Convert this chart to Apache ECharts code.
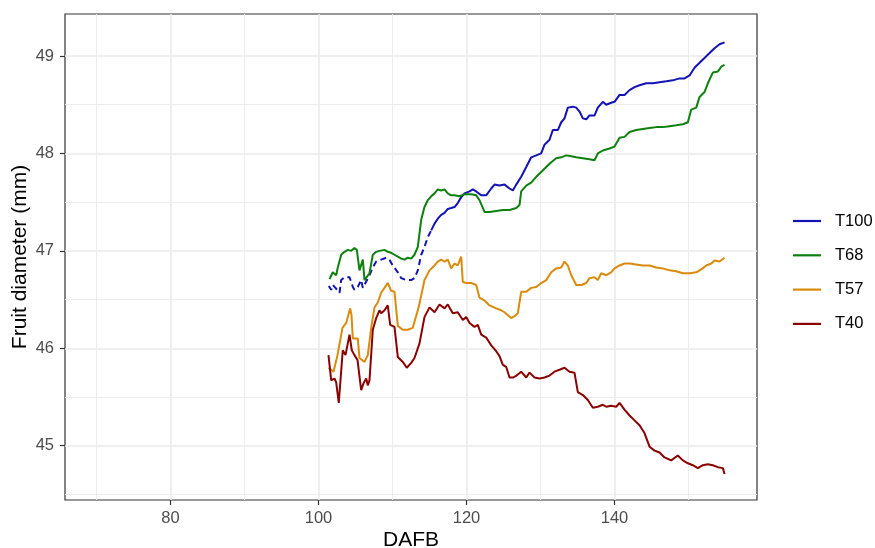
<!DOCTYPE html>
<html>
<head>
<meta charset="utf-8">
<script src="https://cdn.jsdelivr.net/npm/echarts@6/dist/echarts.min.js"></script>
<style>
html,body{margin:0;padding:0;background:#fff;}
#chart{width:875px;height:548px;}
</style>
</head>
<body>
<div id="chart"></div>
<script>
var seriesNames = ['T100', 'T68', 'T57', 'T40'];
var xTicks = [80, 100, 120, 140];
var xMinor = [70, 90, 110, 130, 150];
var yTicks = [45, 46, 47, 48, 49];
var yMinor = [44.5, 45.5, 46.5, 47.5, 48.5];
var t100DashedUntil = 115.25;

var t100 = [[101.39,46.64],[101.72,46.60],[101.93,46.65],[102.30,46.62],[102.84,46.57],[103.07,46.70],[103.51,46.73],[104.19,46.73],[104.64,46.63],[104.86,46.60],[105.31,46.63],[105.77,46.70],[105.99,46.62],[106.22,46.63],[106.89,46.75],[107.34,46.83],[107.80,46.89],[108.47,46.91],[109.15,46.93],[109.59,46.91],[110.04,46.85],[110.72,46.78],[111.18,46.72],[111.85,46.70],[112.53,46.70],[112.97,46.72],[113.42,46.80],[113.88,46.96],[114.32,47.04],[114.77,47.14],[115.23,47.21],[115.68,47.28],[116.12,47.33],[116.58,47.37],[117.03,47.39],[117.47,47.43],[117.93,47.44],[118.38,47.45],[118.82,47.49],[119.28,47.55],[119.73,47.59],[120.41,47.61],[120.85,47.63],[121.31,47.61],[121.99,47.57],[122.66,47.57],[123.34,47.64],[123.78,47.68],[124.46,47.67],[125.14,47.68],[125.81,47.64],[126.26,47.62],[126.72,47.68],[127.39,47.76],[128.07,47.86],[128.74,47.96],[129.42,47.98],[130.09,48.00],[130.54,48.09],[131.22,48.14],[131.66,48.24],[132.34,48.24],[132.80,48.32],[133.24,48.36],[133.69,48.47],[134.36,48.48],[134.82,48.47],[135.27,48.43],[135.72,48.36],[136.18,48.35],[136.62,48.39],[137.30,48.39],[137.74,48.47],[138.42,48.53],[138.88,48.50],[139.55,48.52],[140.00,48.53],[140.68,48.60],[141.35,48.60],[142.03,48.65],[142.70,48.68],[143.38,48.70],[144.28,48.72],[145.18,48.72],[146.08,48.73],[146.99,48.74],[147.88,48.75],[148.78,48.77],[149.46,48.77],[150.14,48.80],[150.81,48.88],[151.49,48.93],[152.16,48.98],[152.84,49.03],[153.51,49.08],[154.19,49.12],[154.86,49.14]];

var t68 = [[101.49,46.71],[101.93,46.78],[102.16,46.80],[102.39,46.75],[102.61,46.83],[102.84,46.84],[103.07,46.96],[103.51,46.99],[103.96,47.01],[104.42,47.00],[104.86,47.03],[105.18,47.01],[105.41,46.99],[105.54,46.80],[105.77,46.78],[105.99,46.91],[106.22,46.70],[106.45,46.68],[106.89,46.77],[107.34,46.96],[107.80,46.99],[108.24,47.00],[108.92,47.01],[109.36,46.99],[109.82,46.98],[110.27,46.96],[110.72,46.94],[111.18,46.92],[111.62,46.91],[112.07,46.93],[112.53,46.92],[112.97,46.96],[113.42,47.04],[113.65,47.18],[113.88,47.32],[114.32,47.45],[114.77,47.52],[115.23,47.56],[115.68,47.59],[116.12,47.63],[116.58,47.62],[117.03,47.63],[117.47,47.59],[117.93,47.57],[118.38,47.57],[119.05,47.56],[119.73,47.58],[120.64,47.58],[121.31,47.57],[121.76,47.52],[121.99,47.48],[122.43,47.40],[123.11,47.40],[124.01,47.41],[124.91,47.42],[125.81,47.42],[126.72,47.44],[127.16,47.47],[127.39,47.61],[128.07,47.67],[128.74,47.70],[129.42,47.76],[130.09,47.81],[130.77,47.86],[131.45,47.91],[132.12,47.95],[132.80,47.96],[133.47,47.98],[134.15,47.97],[134.82,47.96],[135.72,47.95],[136.62,47.94],[137.30,47.93],[137.74,48.00],[138.42,48.03],[139.32,48.05],[140.00,48.07],[140.68,48.16],[141.35,48.17],[142.03,48.22],[142.93,48.24],[143.82,48.25],[144.73,48.26],[145.64,48.27],[146.53,48.27],[147.43,48.28],[148.34,48.29],[149.23,48.30],[149.91,48.32],[150.36,48.45],[151.04,48.47],[151.49,48.58],[152.16,48.63],[152.61,48.72],[153.28,48.83],[153.96,48.84],[154.42,48.89],[154.86,48.91]];

var t57 = [[101.35,45.80],[102.03,45.76],[102.57,45.93],[103.24,46.21],[103.74,46.26],[104.28,46.41],[104.46,46.34],[104.64,46.10],[105.31,46.10],[105.54,45.90],[106.22,45.86],[106.66,45.93],[107.12,46.21],[107.57,46.42],[108.01,46.47],[108.47,46.57],[108.92,46.62],[109.36,46.67],[109.82,46.59],[110.27,46.58],[110.72,46.23],[111.39,46.19],[112.07,46.19],[112.74,46.21],[113.42,46.39],[113.65,46.46],[114.32,46.70],[115.00,46.80],[115.68,46.85],[116.12,46.89],[116.58,46.91],[117.03,46.89],[117.47,46.91],[117.93,46.82],[118.38,46.87],[118.82,46.85],[119.28,46.94],[119.50,46.68],[119.96,46.67],[120.64,46.67],[121.31,46.65],[121.76,46.52],[122.43,46.49],[123.11,46.44],[124.01,46.41],[124.69,46.39],[125.14,46.37],[125.58,46.34],[126.04,46.31],[126.49,46.33],[126.93,46.36],[127.39,46.58],[128.07,46.58],[128.74,46.62],[129.42,46.63],[130.09,46.67],[130.77,46.70],[131.45,46.78],[132.12,46.82],[132.80,46.83],[133.24,46.89],[133.69,46.85],[134.15,46.75],[134.82,46.65],[135.50,46.65],[136.18,46.67],[136.62,46.72],[137.30,46.73],[137.74,46.70],[138.20,46.77],[138.88,46.75],[139.55,46.78],[140.00,46.82],[140.68,46.85],[141.35,46.87],[142.03,46.87],[142.93,46.86],[143.82,46.85],[144.73,46.85],[145.64,46.83],[146.53,46.82],[147.43,46.80],[148.34,46.79],[149.23,46.77],[150.14,46.77],[151.04,46.78],[151.72,46.81],[152.39,46.85],[153.07,46.87],[153.51,46.90],[154.19,46.89],[154.86,46.93]];

var t40 = [[101.35,45.93],[101.72,45.67],[102.16,45.69],[102.39,45.65],[102.74,45.44],[103.28,45.98],[103.65,45.93],[104.19,46.14],[104.50,45.98],[104.86,45.93],[105.27,45.88],[105.77,45.57],[106.08,45.64],[106.45,45.69],[106.66,45.62],[106.89,45.67],[107.34,46.19],[107.80,46.31],[108.24,46.39],[108.47,46.36],[108.92,46.39],[109.36,46.44],[109.69,46.24],[110.27,46.22],[110.72,45.91],[111.39,45.86],[111.93,45.80],[112.53,45.85],[112.97,45.90],[113.65,46.05],[114.32,46.32],[115.00,46.42],[115.68,46.37],[116.35,46.45],[117.03,46.41],[117.47,46.45],[118.15,46.36],[118.82,46.37],[119.50,46.29],[119.96,46.32],[120.41,46.26],[121.08,46.22],[121.53,46.24],[121.99,46.14],[122.66,46.11],[123.34,46.03],[124.01,45.97],[124.46,45.92],[124.91,45.83],[125.36,45.81],[125.81,45.70],[126.26,45.70],[126.76,45.72],[127.39,45.76],[128.07,45.70],[128.51,45.75],[129.19,45.70],[129.86,45.69],[130.54,45.70],[131.22,45.72],[131.89,45.76],[132.57,45.78],[133.24,45.80],[133.92,45.76],[134.59,45.75],[135.04,45.55],[135.72,45.52],[136.39,45.47],[137.07,45.39],[137.74,45.40],[138.42,45.42],[138.88,45.40],[139.55,45.41],[140.23,45.40],[140.68,45.44],[141.35,45.37],[142.03,45.31],[142.70,45.26],[143.38,45.21],[144.05,45.13],[144.73,44.99],[145.41,44.95],[146.08,44.93],[146.76,44.88],[147.66,44.85],[148.55,44.90],[149.23,44.85],[149.91,44.82],[150.58,44.80],[151.26,44.77],[151.93,44.80],[152.61,44.81],[153.28,44.80],[153.96,44.78],[154.64,44.77],[154.86,44.71]];

var colors = {T100: '#1212B5', T68: '#0E800E', T57: '#DB8A0C', T40: '#8B0000'};
var FONT = 'Liberation Sans, Arial, Helvetica, sans-serif';

var gridLines = [];
xTicks.forEach(function (v) { gridLines.push({xAxis: v, lineStyle: {width: 1.6, color: '#EBEBEB', type: 'solid'}}); });
xMinor.forEach(function (v) { gridLines.push({xAxis: v, lineStyle: {width: 0.9, color: '#EBEBEB', type: 'solid'}}); });
yTicks.forEach(function (v) { gridLines.push({yAxis: v, lineStyle: {width: 1.6, color: '#EBEBEB', type: 'solid'}}); });
yMinor.forEach(function (v) { gridLines.push({yAxis: v, lineStyle: {width: 0.9, color: '#EBEBEB', type: 'solid'}}); });

function lineSeries(name, data, dashed) {
  return {
    name: name,
    type: 'line',
    data: data,
    showSymbol: false,
    symbol: 'none',
    z: 3,
    lineStyle: {width: 2, color: colors[name.split(' ')[0]], type: dashed ? [6, 4] : 'solid'},
    itemStyle: {color: colors[name.split(' ')[0]]},
    emphasis: {disabled: true}
  };
}

var t100Dashed = t100.filter(function (p) { return p[0] <= t100DashedUntil; });
var t100Solid = t100.filter(function (p) { return p[0] >= t100DashedUntil - 0.1; });

var chart = echarts.init(document.getElementById('chart'), null, {renderer: 'canvas'});
chart.setOption({
  animation: false,
  backgroundColor: '#ffffff',
  grid: {left: 65, top: 14, right: 118, bottom: 48, show: true, borderColor: '#333333', borderWidth: 1.2, backgroundColor: 'transparent', containLabel: false, outerBoundsMode: 'none'},
  xAxis: {
    type: 'value', min: 65.75, max: 159.25,
    name: 'DAFB', nameLocation: 'middle', nameGap: 30, nameMoveOverlap: false,
    nameTextStyle: {fontSize: 21, color: '#000000', fontFamily: FONT},
    axisLine: {show: false},
    axisTick: {show: true, length: 5, customValues: xTicks, lineStyle: {color: '#333333', width: 1.2}},
    axisLabel: {customValues: xTicks, margin: 10, fontSize: 16.5, color: '#4D4D4D', fontFamily: FONT},
    splitLine: {show: false}
  },
  yAxis: {
    type: 'value', min: 44.443, max: 49.431,
    name: 'Fruit diameter (mm)', nameLocation: 'middle', nameGap: 34, nameMoveOverlap: false,
    nameTextStyle: {fontSize: 21, color: '#000000', fontFamily: FONT},
    axisLine: {show: false},
    axisTick: {show: true, length: 5, customValues: yTicks, lineStyle: {color: '#333333', width: 1.2}},
    axisLabel: {customValues: yTicks, margin: 11, fontSize: 16.5, color: '#4D4D4D', fontFamily: FONT},
    splitLine: {show: false}
  },
  legend: {
    data: seriesNames,
    orient: 'vertical',
    left: 793, top: 211,
    padding: 0,
    icon: 'rect',
    itemWidth: 28, itemHeight: 2.2,
    itemGap: 14.3,
    selectedMode: false,
    textStyle: {fontSize: 16.5, color: '#000000', fontFamily: FONT, lineHeight: 20, padding: [0, 0, 0, 9]}
  },
  series: [
    {
      name: 'gridlines', type: 'line', data: [], z: 1, silent: true,
      markLine: {silent: true, symbol: ['none', 'none'], label: {show: false}, animation: false, data: gridLines, z: 1}
    },
    lineSeries('T100', t100Solid, false),
    lineSeries('T100 dashed', t100Dashed, true),
    lineSeries('T68', t68, false),
    lineSeries('T57', t57, false),
    lineSeries('T40', t40, false)
  ]
});
</script>
</body>
</html>
